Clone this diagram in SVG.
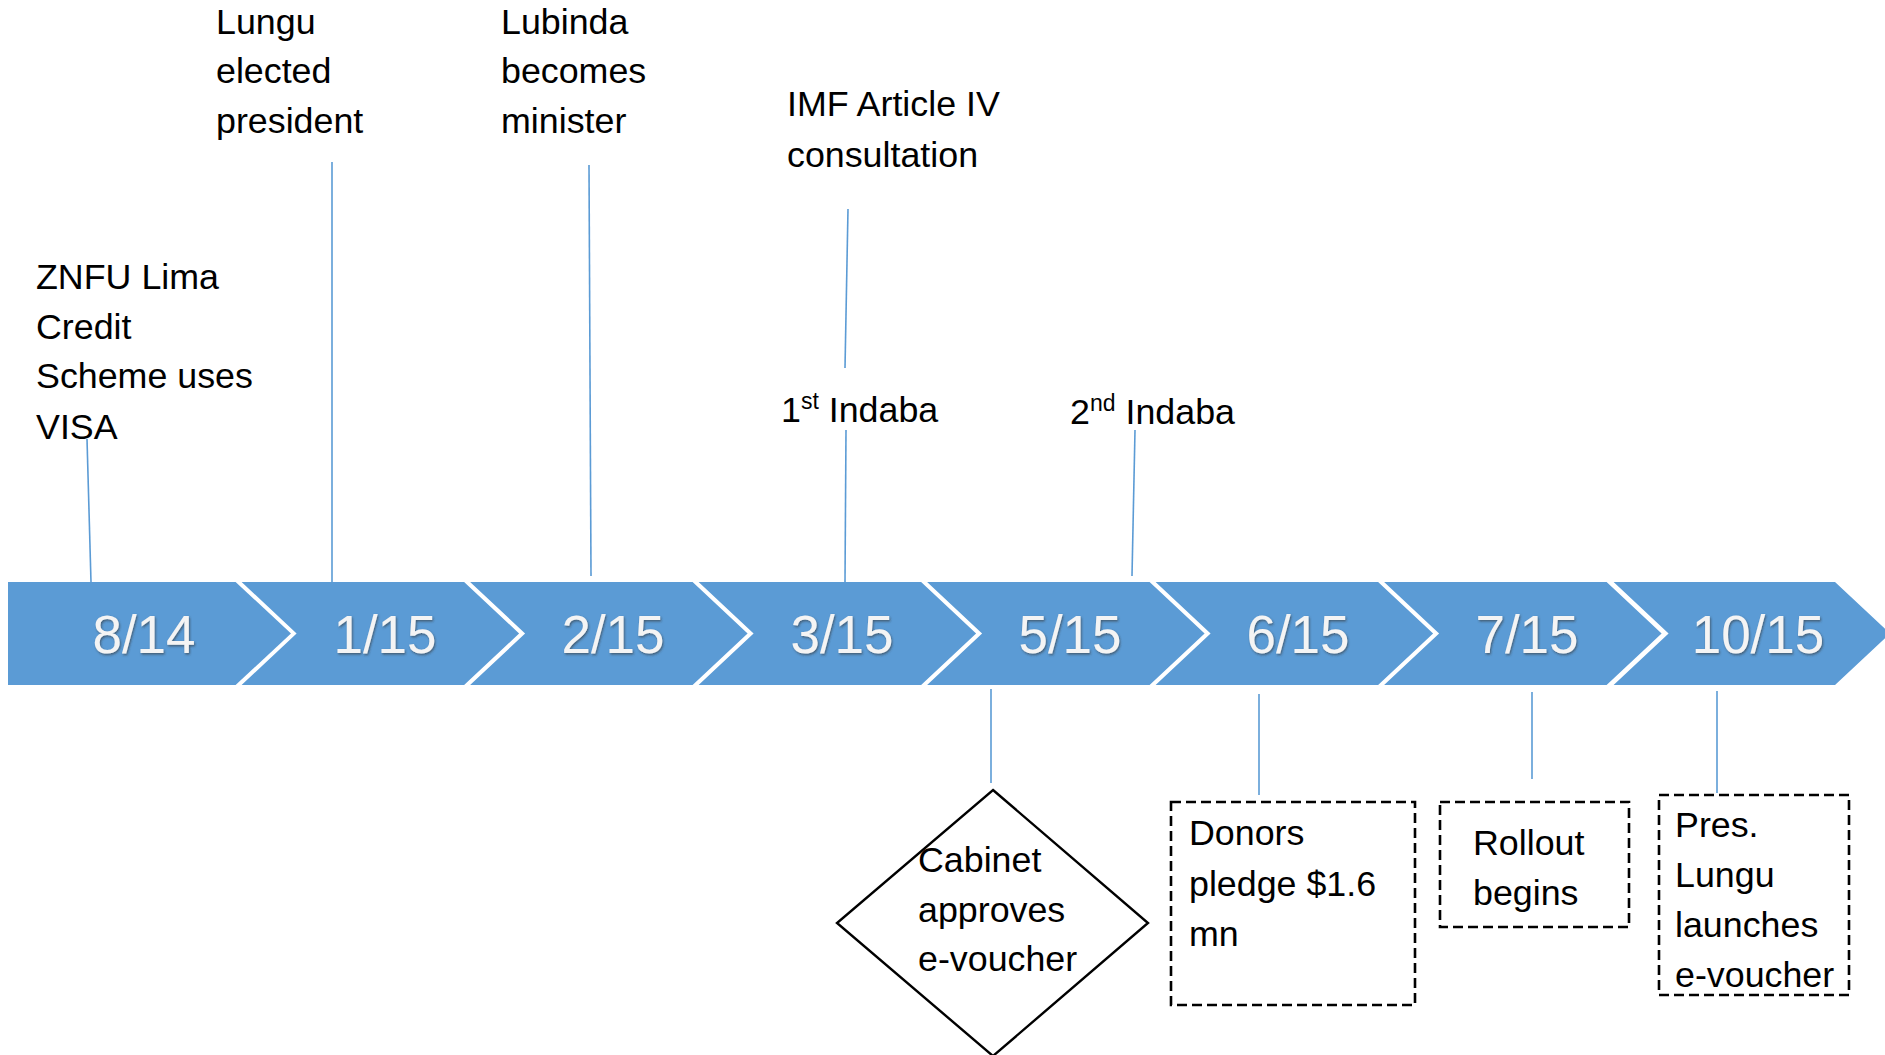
<svg xmlns="http://www.w3.org/2000/svg" width="1885" height="1055" viewBox="0 0 1885 1055">
<style>
.band{fill:#5B9BD5;stroke:none}
.date{font-family:"Liberation Sans",Arial,sans-serif;font-size:53px;fill:#F4F4F4;text-anchor:middle;filter:url(#sh)}
.lbl{font-family:"Liberation Sans",Arial,sans-serif;font-size:35.8px;fill:#000}
.conn{stroke:#5B9BD5;stroke-width:1.6;fill:none}
.dash{fill:#fff;stroke:#000;stroke-width:2.6;stroke-dasharray:10 5}
.dia{fill:#fff;stroke:#000;stroke-width:2.4}
</style>
<defs>
<filter id="sh" x="-10%" y="-10%" width="120%" height="130%">
<feDropShadow dx="1" dy="1.5" stdDeviation="1" flood-color="#333" flood-opacity="0.6"/>
</filter>
</defs>
<rect width="1885" height="1055" fill="#fff"/>
<g id="timeline">
<g id="c0"><polygon class="band" points="8,582 235.6,582 291,633.5 235.6,685 8,685"/><text class="date" x="144" y="653">8/14</text></g>
<g id="c1"><polygon class="band" points="241.6,582 464.1,582 519.1,633.5 464.1,685 241.6,685 296.6,633.5"/><text class="date" x="385" y="653">1/15</text></g>
<g id="c2"><polygon class="band" points="470.1,582 692.6,582 747.6,633.5 692.6,685 470.1,685 525.1,633.5"/><text class="date" x="613" y="653">2/15</text></g>
<g id="c3"><polygon class="band" points="698.6,582 921.1,582 976.1,633.5 921.1,685 698.6,685 753.6,633.5"/><text class="date" x="842" y="653">3/15</text></g>
<g id="c4"><polygon class="band" points="927.1,582 1149.6,582 1204.6,633.5 1149.6,685 927.1,685 982.1,633.5"/><text class="date" x="1070" y="653">5/15</text></g>
<g id="c5"><polygon class="band" points="1155.6,582 1378.1,582 1433.1,633.5 1378.1,685 1155.6,685 1210.6,633.5"/><text class="date" x="1298" y="653">6/15</text></g>
<g id="c6"><polygon class="band" points="1384.1,582 1606.6,582 1661.6,633.5 1606.6,685 1384.1,685 1439.1,633.5"/><text class="date" x="1527" y="653">7/15</text></g>
<g id="c7"><polygon class="band" points="1613.6,582 1835,582 1890,633.5 1835,685 1613.6,685 1668.6,633.5"/><text class="date" x="1758" y="653">10/15</text></g>
</g>
<g id="connectors">
<line class="conn" x1="87" y1="439" x2="91" y2="582"/>
<line class="conn" x1="332" y1="162" x2="332" y2="582"/>
<line class="conn" x1="589" y1="165" x2="591" y2="576"/>
<line class="conn" x1="848" y1="209" x2="845" y2="368"/>
<line class="conn" x1="846" y1="430" x2="845" y2="582"/>
<line class="conn" x1="1135" y1="430" x2="1132" y2="576"/>
<line class="conn" x1="991" y1="689" x2="991" y2="783"/>
<line class="conn" x1="1259" y1="694" x2="1259" y2="795"/>
<line class="conn" x1="1532" y1="692" x2="1532" y2="779"/>
<line class="conn" x1="1717" y1="691" x2="1717" y2="793"/>
</g>
<g id="znfu"><text class="lbl" x="36" y="289">ZNFU Lima</text><text class="lbl" x="36" y="339">Credit</text><text class="lbl" x="36" y="388">Scheme uses</text><text class="lbl" x="36" y="439">VISA</text></g>
<g id="lungu"><text class="lbl" x="216" y="34">Lungu</text><text class="lbl" x="216" y="83">elected</text><text class="lbl" x="216" y="133">president</text></g>
<g id="lubinda"><text class="lbl" x="501" y="34">Lubinda</text><text class="lbl" x="501" y="83">becomes</text><text class="lbl" x="501" y="133">minister</text></g>
<g id="imf"><text class="lbl" x="787" y="116">IMF Article IV</text><text class="lbl" x="787" y="167">consultation</text></g>
<g id="indaba1"><text class="lbl" x="781" y="422">1<tspan font-size="23" dy="-13">st</tspan><tspan dy="13"> Indaba</tspan></text></g>
<g id="indaba2"><text class="lbl" x="1070" y="424">2<tspan font-size="23" dy="-13">nd</tspan><tspan dy="13"> Indaba</tspan></text></g>
<g id="cabinet"><polygon class="dia" points="993,790 1148,923 993,1056 837,923"/><text class="lbl" x="918" y="872">Cabinet</text><text class="lbl" x="918" y="922">approves</text><text class="lbl" x="918" y="971">e-voucher</text></g>
<g id="donors"><rect class="dash" x="1171" y="802" width="244" height="203"/><text class="lbl" x="1189" y="845">Donors</text><text class="lbl" x="1189" y="896">pledge $1.6</text><text class="lbl" x="1189" y="946">mn</text></g>
<g id="rollout"><rect class="dash" x="1440" y="802" width="189" height="125"/><text class="lbl" x="1473" y="855">Rollout</text><text class="lbl" x="1473" y="905">begins</text></g>
<g id="pres"><rect class="dash" x="1659" y="795" width="190" height="200"/><text class="lbl" x="1675" y="837">Pres.</text><text class="lbl" x="1675" y="887">Lungu</text><text class="lbl" x="1675" y="937">launches</text><text class="lbl" x="1675" y="987">e-voucher</text></g>
</svg>
